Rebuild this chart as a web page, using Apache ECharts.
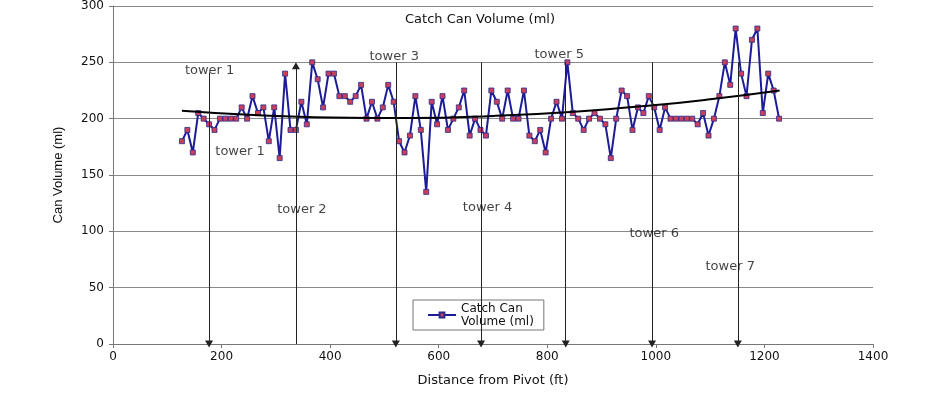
<!DOCTYPE html>
<html>
<head>
<meta charset="utf-8">
<script src="https://cdn.jsdelivr.net/npm/echarts@6/dist/echarts.min.js"></script>
<style>
html,body{margin:0;padding:0;background:#fff;}
#c{width:941px;height:393px;}
</style>
</head>
<body>
<div id="c"></div>
<script>
// Catch can positions (ft) and volumes (ml)
var distances = [127,137,147,157,167,177,187,197,207,217,227,237,247,257,267,277,287,297,307,317,
  327,337,347,357,367,377,387,397,407,417,427,437,447,457,467,477,487,497,507,517,
  527,537,547,557,567,577,587,597,607,617,627,637,647,657,667,677,687,697,707,717,
  727,737,747,757,767,777,787,797,807,817,827,837,847,857,867,877,887,897,907,917,
  927,937,947,957,967,977,987,997,1007,1017,1027,1037,1047,1057,1067,1077,1087,1097,1107,1117,
  1127,1137,1147,1157,1167,1177,1187,1197,1207,1217,1227];
var volumes = [180,190,170,205,200,195,190,200,200,200,200,210,200,220,205,210,180,210,165,240,
  190,190,215,195,250,235,210,240,240,220,220,215,220,230,200,215,200,210,230,215,
  180,170,185,220,190,135,215,195,220,190,200,210,225,185,200,190,185,225,215,200,
  225,200,200,225,185,180,190,170,200,215,200,250,205,200,190,200,205,200,195,165,
  200,225,220,190,210,205,220,210,190,210,200,200,200,200,200,195,205,185,200,220,
  250,230,280,240,220,270,280,205,240,225,200];

// Trendline
var trendX = [127,250,400,550,700,850,1000,1100,1228];
var trendY = [207,203.4,201,200.6,202.4,206.2,212.1,217.2,225.1];

// Tower annotations
var towerX = [177,337,521,678,834,993,1151];
var towerTop = [241,247,250,250,250,250,250];
var towerUp = [false,true,false,false,false,false,false];
var labelX = [178,234,348,518,690,822,997,1137];
var labelY = [243,171,119.5,255,121,256.6,98,69];
var labelText = ['tower 1','tower 1','tower 2','tower 3','tower 4','tower 5','tower 6','tower 7'];

var xTicks = [0,200,400,600,800,1000,1200,1400];
var yTicks = [0,50,100,150,200,250,300];

var mainData = distances.map(function(d,i){return [d, volumes[i]];});
var trendData = trendX.map(function(d,i){return [d, trendY[i]];});
var towerLines = towerX.map(function(x,i){
  if (towerUp[i]) {
    return [{coord:[x,0]},{coord:[x,towerTop[i]]}];
  }
  return [{coord:[x,towerTop[i]]},{coord:[x,0]}];
});
var labelData = labelX.map(function(x,i){return {value:[x,labelY[i]], name:labelText[i]};});

var font = 'DejaVu Sans, Verdana, sans-serif';
var chart = echarts.init(document.getElementById('c'), null, {renderer:'canvas'});
chart.setOption({
  animation:false,
  backgroundColor:'#fff',
  title:{
    text:'Catch Can Volume (ml)',
    left:475, top:8, textAlign:'center',
    textStyle:{fontFamily:font,fontSize:13,fontWeight:'normal',color:'#111'}
  },
  legend:{
    data:['Catch Can\nVolume (ml)'],
    left:413, top:300, width:135, height:28,
    orient:'vertical',
    borderColor:'#777', borderWidth:1, borderRadius:0,
    padding:[2,10,2,14],
    itemWidth:28, itemHeight:6,
    textStyle:{fontFamily:font,fontSize:12,color:'#111',lineHeight:13}
  },
  grid:{left:113,right:68,top:5,bottom:49,containLabel:false},
  xAxis:{
    type:'value', min:0, max:1400, interval:200,
    name:'Distance from Pivot (ft)', nameLocation:'middle', nameGap:30,
    nameTextStyle:{fontFamily:font,fontSize:13,color:'#111'},
    axisLine:{show:true,lineStyle:{color:'#777',width:1}},
    axisTick:{show:true,length:4,lineStyle:{color:'#777'}},
    axisLabel:{fontFamily:font,fontSize:12,color:'#111',margin:7,formatter:function(v){return String(v);}},
    splitLine:{show:false}
  },
  yAxis:{
    type:'value', min:0, max:300, interval:50,
    name:'Can Volume (ml)', nameLocation:'middle', nameGap:48,
    nameTextStyle:{fontFamily:'Liberation Sans Narrow, Arial Narrow, Liberation Sans, sans-serif',fontSize:13,color:'#111'},
    axisLine:{show:true,lineStyle:{color:'#777',width:1}},
    axisTick:{show:true,length:4,lineStyle:{color:'#777'}},
    axisLabel:{fontFamily:font,fontSize:12,color:'#111',margin:9,formatter:function(v){return String(v);}},
    splitLine:{show:true,lineStyle:{color:'#8a8a8a',width:1}}
  },
  series:[
    {
      name:'towers', type:'line', data:[], clip:false, silent:true,
      markLine:{
        silent:true, symbol:['none','triangle'], symbolSize:[8,7],
        label:{show:false},
        lineStyle:{color:'#222',width:1,type:'solid'},
        data:towerLines
      }
    },
    {
      name:'Catch Can\nVolume (ml)', type:'line', data:mainData, z:3,
      symbol:'rect', symbolSize:5, showSymbol:true,
      lineStyle:{color:'#1c1c96',width:2},
      itemStyle:{color:'#c8405e',borderColor:'#2a2a8a',borderWidth:0.8},
      color:'#1c1c96'
    },
    {
      name:'trend', type:'line', data:trendData, smooth:true, symbol:'none', z:4,
      lineStyle:{color:'#000',width:2}
    },
    {
      name:'labels', type:'scatter', data:labelData, symbolSize:0, z:5, silent:true,
      label:{show:true, position:'inside', formatter:function(p){return p.name;},
        fontFamily:font, fontSize:13, color:'#111'}
    }
  ]
});
</script>
</body>
</html>
